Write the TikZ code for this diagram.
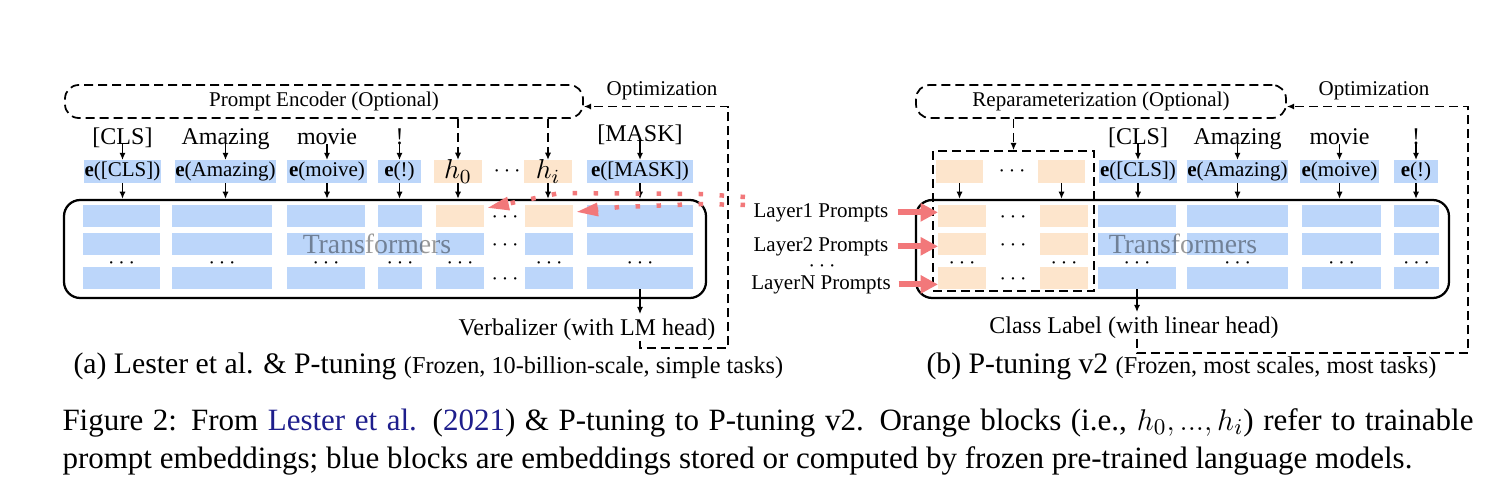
\documentclass[tikz,border=0pt]{standalone}
\usepackage{fontspec}
\setmainfont{Liberation Serif}
\usetikzlibrary{arrows.meta,calc}
\definecolor{bblue}{RGB}{188,214,250}
\definecolor{borange}{RGB}{253,229,204}
\definecolor{ppink}{RGB}{242,120,122}
\definecolor{citeblue}{RGB}{30,30,140}
\newcommand{\fsz}[1]{\fontsize{#1}{#1}\selectfont}
\begin{document}
\begin{tikzpicture}[x=0.4pt,y=-0.4pt,
  pw/.style={minimum width=#1*0.4pt},
  ph/.style={minimum height=#1*0.4pt},
  blk/.style={rectangle, inner sep=0pt, outer sep=0pt, draw=none, minimum height=22*0.4pt},
  bb/.style={blk, fill=bblue},
  ob/.style={blk, fill=borange},
  ebox/.style={rectangle, inner sep=0pt, outer sep=0pt, minimum height=23*0.4pt, font=\fsz{8.4pt}},
  lbl/.style={inner sep=0pt, font=\fsz{9.6pt}},
  st/.style={inner sep=0pt, font=\fsz{8.4pt}},
  dbox/.style={draw, dash pattern=on 3.6pt off 2pt, line width=0.7pt, rounded corners=5.5pt, inner sep=0pt, font=\fsz{8.4pt}},
  dgrp/.style={draw, dash pattern=on 3.6pt off 2pt, line width=0.7pt, inner sep=0pt},
  tbox/.style={draw, line width=0.9pt, rounded corners=6.5pt, inner sep=0pt},
  arr/.style={line width=0.65pt, -{Latex[length=2.9pt,width=2.5pt]}},
  darr/.style={arr, dash pattern=on 3.6pt off 2pt},
  dt/.style={inner sep=0pt, font=\fsz{9pt}},
  ttl/.style={inner sep=0pt, text=black, text opacity=0.4, font=\fsz{11.1pt}},
  parr/.style={color=ppink, line width=2.4pt, -{Triangle[length=7pt,width=7pt]}},
  pdot/.style={color=ppink, line width=1.8pt, dash pattern=on 1.8pt off 6.6pt, -{Triangle[length=8.8pt,width=5pt]}},
]
\useasboundingbox (0,0) rectangle (1500,493);

% ================= Panel (a) =================
\node[dbox, pw=518, ph=33] (pe) at (324,101.5) {Prompt Encoder (Optional)};
\node[st] (opta) at (662,91) {Optimization};

\node[lbl, anchor=base] (wa1) at (122.5,144) {[CLS]};
\node[lbl, anchor=base] (wa2) at (225.5,144) {Amazing};
\node[lbl, anchor=base] (wa3) at (327,144) {movie};
\node[lbl, anchor=base] (wa4) at (399.5,144) {!};
\node[lbl, anchor=base] (wa7) at (640,141) {[MASK]};

\node[ebox, fill=bblue, pw=77] (ea1) at (122.5,171.5) {\textbf{e}([CLS])};
\node[ebox, fill=bblue, pw=101] (ea2) at (225.5,171.5) {\textbf{e}(Amazing)};
\node[ebox, fill=bblue, pw=80] (ea3) at (327,171.5) {\textbf{e}(moive)};
\node[ebox, fill=bblue, pw=43] (ea4) at (399.5,171.5) {\textbf{e}(!)};
\node[ebox, fill=borange, pw=48, font=\fsz{11.2pt}] (ea5) at (458,171.5) {$h_0$};
\node[dt] (dea) at (507,171) {$\cdots$};
\node[ebox, fill=borange, pw=48, font=\fsz{11.2pt}] (ea6) at (548,171.5) {$h_i$};
\node[ebox, fill=bblue, pw=106] (ea7) at (640,171.5) {\textbf{e}([MASK])};

\node[tbox, pw=642, ph=98] (tfa) at (385,249) {};

\foreach \c/\x/\w in {1/121.5/77, 2/222/100, 3/326/78, 4/400/44, 7/640/106}
  \foreach \r/\y in {1/216, 2/244, 3/278}
    \node[bb, pw=\w] (a\c\r) at (\x,\y) {};
\node[ob, pw=48] (a51) at (460,216) {};
\node[bb, pw=48] (a52) at (460,244) {};
\node[bb, pw=48] (a53) at (460,278) {};
\node[ob, pw=48] (a61) at (549,216) {};
\node[bb, pw=48] (a62) at (549,244) {};
\node[bb, pw=48] (a63) at (549,278) {};
\foreach \x [count=\i] in {121.5,222,326,400,460,549,640}
  \node[dt] (dra\i) at (\x,263) {$\cdots$};
\foreach \y [count=\i] in {217,245,279}
  \node[dt] (dca\i) at (505,\y) {$\cdots$};

\node[ttl] (ta) at (377,244) {Transformers};

\node[lbl, anchor=base] (verb) at (587,335) {Verbalizer (with LM head)};

\foreach \i in {1,2,3,4,7}
  \draw[arr] (wa\i.base) -- (ea\i.north);
\foreach \i in {1,2,3,4,5,6,7}
  \draw[arr] (ea\i.south) -- (ea\i.south |- tfa.north);
\draw[darr] (pe.south -| ea5.north) -- (ea5.north);
\draw[darr] (pe.south -| ea6.north) -- (ea6.north);
\draw[arr, shorten >=1.5pt] (a73.south) -- (a73 |- verb.north);

\coordinate (oa2) at (728,348);
\draw[darr] (a73 |- verb.south) |- (oa2) |- ([yshift=-2pt]pe.east);

% ================= Panel (b) =================
\node[dbox, pw=370, ph=33] (rp) at (1101,101.5) {Reparameterization (Optional)};
\node[st] (optb) at (1374,91) {Optimization};

\node[dgrp, pw=161, ph=140] (pbox) at (1013.5,221) {};
\node[ebox, fill=borange, pw=47] (eb1) at (959.5,171.5) {};
\node[dt] (deb) at (1012,171) {$\cdots$};
\node[ebox, fill=borange, pw=47] (eb2) at (1061.5,171.5) {};

\node[lbl, anchor=base] (wb3) at (1138,144) {[CLS]};
\node[lbl, anchor=base] (wb4) at (1237.5,144) {Amazing};
\node[lbl, anchor=base] (wb5) at (1339.5,144) {movie};
\node[lbl, anchor=base] (wb6) at (1416,144) {!};

\node[ebox, fill=bblue, pw=78] (eb3) at (1138,171.5) {\textbf{e}([CLS])};
\node[ebox, fill=bblue, pw=99] (eb4) at (1237.5,171.5) {\textbf{e}(Amazing)};
\node[ebox, fill=bblue, pw=79] (eb5) at (1339.5,171.5) {\textbf{e}(moive)};
\node[ebox, fill=bblue, pw=44] (eb6) at (1416,171.5) {\textbf{e}(!)};

\node[tbox, pw=533, ph=98] (tfb) at (1182.5,249) {};

\foreach \c/\x in {1/962, 2/1064}
  \foreach \r/\y in {1/216, 2/244, 3/278}
    \node[ob, pw=48] (q\c\r) at (\x,\y) {};
\foreach \c/\x/\w in {1/1137/78, 2/1237.5/101, 3/1341.5/79, 4/1416.5/45}
  \foreach \r/\y in {1/216, 2/244, 3/278}
    \node[bb, pw=\w] (b\c\r) at (\x,\y) {};
\foreach \x [count=\i] in {962,1064,1137,1237.5,1341.5,1416.5}
  \node[dt] (drb\i) at (\x,263) {$\cdots$};
\foreach \y [count=\i] in {217,245,279}
  \node[dt] (dcb\i) at (1013,\y) {$\cdots$};

\node[ttl] (tb) at (1183,244) {Transformers};

\node[lbl, anchor=base] (cls) at (1134,333) {Class Label (with linear head)};

\foreach \i in {3,4,5,6}
  \draw[arr] (wb\i.base) -- (eb\i.north);
\foreach \i in {1,2,3,4,5,6}
  \draw[arr] (eb\i.south) -- (eb\i.south |- tfb.north);
\draw[darr] (rp.south -| pbox.north) -- (pbox.north);
\draw[arr, shorten >=1.5pt] (b13.south) -- (b13 |- cls.north);

\coordinate (ob2) at (1468,353);
\draw[darr] (b13 |- cls.south) |- (ob2) |- ([yshift=-2pt]rp.east);

% Layer prompts
\node[st, anchor=base] (l1) at (821,217) {Layer1 Prompts};
\node[st, anchor=base] (l2) at (821,251) {Layer2 Prompts};
\node[dt] (ld) at (822,266) {$\cdots$};
\node[st, anchor=base] (ln) at (821,289) {LayerN Prompts};
\draw[parr] ([xshift=3.5pt]l1.east) -- (l1.east -| q11.west);
\draw[parr] ([xshift=3.5pt]l2.east) -- (l2.east -| q12.west);
\draw[parr] ([xshift=3pt]ln.east) -- (ln.east -| q13.west);

% pink dotted links to h_0 and h_i
\coordinate (ps1) at (745,197);
\coordinate (ps2) at (745,205);
\coordinate (pt0) at (487,208);
\coordinate (pti) at (576,212);
\draw[pdot] (ps1) -- (700,194) -- (560,193) -- (pt0);
\draw[pdot] (ps2) -- (700,204) -- (620,207) -- (pti);

% ================= Captions =================
\node[anchor=base west, inner sep=0pt] (sca) at (73,373)
  {\fsz{11.9pt}(a) Lester et al. \& P-tuning \fsz{9.7pt}(Frozen, 10-billion-scale, simple tasks)};
\node[anchor=base west, inner sep=0pt] (scb) at (926,373)
  {\fsz{11.9pt}(b) P-tuning v2 \fsz{9.7pt}(Frozen, most scales, most tasks)};

\node[anchor=base west, inner sep=0pt, font=\fsz{12.4pt}] (cap1) at (62,430)
  {\makebox[564.4pt][s]{Figure 2: From \textcolor{citeblue}{Lester et al.} (\textcolor{citeblue}{2021}) \& P-tuning to P-tuning v2. Orange blocks (i.e., $h_0, ..., h_i$) refer to trainable}};
\node[anchor=base west, inner sep=0pt, font=\fsz{12.4pt}] (cap2) at (62,468)
  {prompt embeddings; blue blocks are embeddings stored or computed by frozen pre-trained language models.};
\end{tikzpicture}
\end{document}
